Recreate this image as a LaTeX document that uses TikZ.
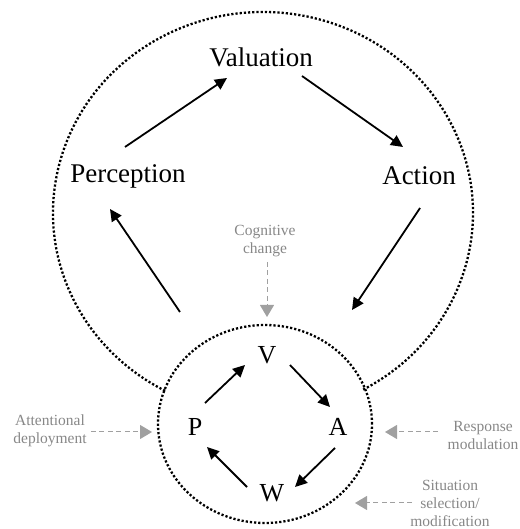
\documentclass[tikz,border=0pt]{standalone}
\usepackage{fontspec}
\setmainfont{Liberation Serif}
\usetikzlibrary{arrows.meta,calc,shapes.geometric}

\definecolor{cuegray}{RGB}{160,160,160}
\definecolor{cuetext}{RGB}{135,135,135}

\tikzset{
  bigword/.style={font=\fontsize{27}{30}\selectfont, inner sep=0pt},
  letter/.style={font=\fontsize{26}{28}\selectfont, inner sep=0pt},
  cue/.style={font=\fontsize{15.5}{18}\selectfont, text=cuetext, align=center, inner sep=0pt},
  flow/.style={line width=1.8pt, -{Triangle[length=12pt,width=11.5pt]}},
  cuearrow/.style={cuegray, line width=1pt, dash pattern=on 5pt off 3.5pt,
                   -{Triangle[length=12pt,width=14pt]}},
  dotline/.style={line width=2.3pt, dash pattern=on 2.2pt off 2pt}
}

\begin{document}
\begin{tikzpicture}[x=1pt,y=1pt]
\useasboundingbox (0,0) rectangle (519,529);

% outer loop: dotted arc that stops where it meets the inner loop
\draw[dotline] (263,316) ++(-61.5:210 and 201)
  arc[start angle=-61.5, end angle=242.3, x radius=210, y radius=201];

% inner loop
\node[ellipse, draw, dotline, minimum width=214pt, minimum height=198pt, inner sep=0pt]
  (inner) at (265,105) {};

% outer cycle labels
\node[bigword] (val) at (261,472) {Valuation};
\node[bigword] (per) at (128,353) {Perception};
\node[bigword] (act) at (419,353) {Action};

% inner cycle labels
\node[letter] (V) at (267,174) {V};
\node[letter] (P) at (195,102) {P};
\node[letter] (A) at (338,102) {A};
\node[letter] (W) at (272,36) {W};

% outer cycle arrows
\draw[flow] ($(per)+(-3,29)$) -- ($(val)+(-34,-21)$);
\draw[flow] ($(val)+(41,-19)$) -- ($(act)+(-16,29)$);
\draw[flow] ($(act)+(1,-32)$) -- ($(inner)+(87,114)$);
\draw[flow] ($(inner)+(-85,112)$) -- ($(per)+(-18,-33)$);

% inner cycle arrows
\draw[flow] ($(P)+(10,24)$) -- ($(V)+(-22,-10)$);
\draw[flow] ($(V)+(23,-10)$) -- ($(A)+(-8,20)$);
\draw[flow] ($(A)+(-3,-21)$) -- ($(W)+(23,6)$);
\draw[flow] ($(W)+(-25,6)$) -- ($(P)+(12,-20)$);

% regulation cues
\node[cue] (cog) at (265,288) {Cognitive\\change};
\node[cue] (att) at (50,98) {Attentional\\deployment};
\node[cue] (resp) at (483,93) {Response\\modulation};
\node[cue] (sit) at (450,26) {Situation\\selection/\\modification};

\coordinate (cogtip) at (267,212);
\coordinate (atttip) at (152,97);
\coordinate (resptip) at (385,97);
\coordinate (sittip) at (355,26);

\draw[cuearrow] (267,267) -- (cogtip);
\draw[cuearrow] (att.east |- atttip) ++(4,0) -- (atttip);
\draw[cuearrow] (438,97) -- (resptip);
\draw[cuearrow] (412,26) -- (sittip);

\end{tikzpicture}
\end{document}
